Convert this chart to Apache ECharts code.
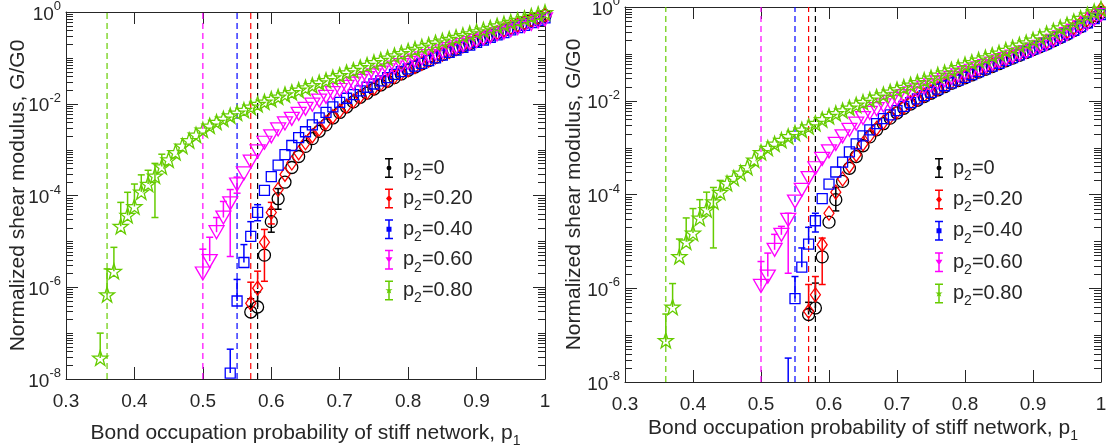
<!DOCTYPE html>
<html>
<head>
<meta charset="utf-8">
<script src="https://cdn.jsdelivr.net/npm/echarts@6/dist/echarts.min.js"></script>
<style>html,body{margin:0;padding:0;background:#fff}#c{width:1106px;height:447px}</style>
</head>
<body>
<div id="c"></div>
<script>
// ---------------- DATA ----------------
// bond occupation probability p1 (shared grid of x values)
const p1 = [0.35,0.36,0.37,0.38,0.39,0.40,0.41,0.42,0.43,0.44,0.45,0.46,0.47,0.48,0.49,0.50,
  0.51,0.52,0.53,0.54,0.55,0.56,0.57,0.58,0.59,0.60,0.61,0.62,0.63,0.64,0.65,0.66,0.67,0.68,0.69,0.70,
  0.71,0.72,0.73,0.74,0.75,0.76,0.77,0.78,0.79,0.80,0.81,0.82,0.83,0.84,0.85,0.86,0.87,0.88,0.89,0.90,
  0.91,0.92,0.93,0.94,0.95,0.96,0.97,0.98,0.99,1.00];

const seriesNames = ['p2=0','p2=0.20','p2=0.40','p2=0.60','p2=0.80'];
// percolation thresholds (dashed lines)
const thresholds = [0.58, 0.57, 0.55, 0.50, 0.36];

// log10(G/G0), each series ends at p1 = 1.00 (aligned to the end of p1)
// ---- left panel ----
const leftP0 = [-6.54,-6.43,-5.30,-4.57,-4.07,-3.71,-3.39,-3.15,-2.93,-2.76,-2.60,-2.46,-2.31,-2.19,
  -2.07,-1.96,-1.86,-1.77,-1.68,-1.59,-1.51,-1.43,-1.35,-1.27,
  -1.20,-1.13,-1.06,-0.99,-0.93,-0.87,-0.81,-0.75,-0.69,-0.63,
  -0.57,-0.51,-0.46,-0.40,-0.35,-0.29,-0.24,-0.18,-0.13,-0.08];
const leftP020 = [-6.35,-6.02,-5.02,-4.37,-3.87,-3.54,-3.29,-3.07,-2.85,-2.70,-2.55,-2.41,-2.28,-2.16,
  -2.05,-1.94,-1.84,-1.75,-1.66,-1.57,-1.49,-1.41,-1.33,-1.26,
  -1.19,-1.12,-1.05,-0.98,-0.92,-0.86,-0.80,-0.74,-0.68,-0.62,
  -0.56,-0.50,-0.45,-0.39,-0.34,-0.28,-0.23,-0.17,-0.12,-0.07];
const leftP040 = [-7.87,-6.30,-5.46,-4.89,-4.37,-3.89,-3.59,
  -3.34,-3.11,-2.91,-2.74,-2.61,-2.46,-2.31,-2.19,-2.07,-1.97,
  -1.88,-1.80,-1.72,-1.64,-1.57,-1.50,-1.43,-1.36,-1.30,-1.24,
  -1.18,-1.12,-1.06,-1.00,-0.94,-0.88,-0.83,-0.77,-0.72,-0.66,
  -0.61,-0.55,-0.50,-0.45,-0.39,-0.34,-0.29,-0.23,-0.18,-0.13];
const leftP060 = [-5.70,-5.43,-4.80,-4.48,-4.17,-3.76,-3.52,-3.26,-3.04,-2.85,-2.71,
  -2.56,-2.43,-2.33,-2.22,-2.11,-2.02,-1.93,-1.85,-1.77,-1.70,
  -1.63,-1.56,-1.50,-1.44,-1.38,-1.32,-1.27,-1.21,-1.16,-1.11,
  -1.06,-1.01,-0.96,-0.91,-0.86,-0.81,-0.77,-0.72,-0.68,-0.63,
  -0.58,-0.54,-0.49,-0.45,-0.40,-0.35,-0.31,-0.26,-0.21,-0.16];
const leftP080 = [-7.54,-6.16,-5.65,-4.67,-4.43,-4.24,
  -3.92,-3.75,-3.57,-3.37,-3.22,-3.06,-2.92,-2.80,-2.68,-2.57,
  -2.48,-2.40,-2.33,-2.26,-2.20,-2.14,-2.07,-2.01,-1.96,-1.90,
  -1.85,-1.80,-1.75,-1.70,-1.65,-1.60,-1.54,-1.49,-1.43,-1.38,
  -1.32,-1.27,-1.21,-1.16,-1.10,-1.05,-1.00,-0.95,-0.90,-0.85,
  -0.81,-0.76,-0.72,-0.67,-0.63,-0.59,-0.55,-0.51,-0.47,-0.43,
  -0.39,-0.35,-0.30,-0.26,-0.22,-0.18,-0.14,-0.09,-0.05,-0.01];
// ---- right panel ----
const rightP0 = [-6.56,-6.42,-5.33,-4.59,-4.11,-3.72,-3.44,-3.19,-2.96,-2.77,-2.62,-2.49,-2.37,-2.26,
  -2.16,-2.07,-1.99,-1.91,-1.84,-1.77,-1.70,-1.63,-1.57,-1.51,
  -1.45,-1.39,-1.33,-1.27,-1.21,-1.15,-1.09,-1.03,-0.97,-0.91,
  -0.85,-0.79,-0.72,-0.65,-0.58,-0.50,-0.42,-0.33,-0.23,-0.12];
const rightP020 = [-6.49,-6.14,-5.07,-4.40,-3.95,-3.67,-3.39,-3.15,-2.92,-2.74,-2.59,-2.46,-2.34,-2.23,
  -2.13,-2.04,-1.96,-1.88,-1.81,-1.74,-1.67,-1.60,-1.54,-1.48,
  -1.42,-1.36,-1.30,-1.24,-1.18,-1.12,-1.06,-1.00,-0.94,-0.88,
  -0.81,-0.74,-0.67,-0.60,-0.52,-0.44,-0.35,-0.26,-0.16,-0.05];
const rightP040 = [-8.30,-6.22,-5.55,-5.06,-4.56,-4.09,-3.78,
  -3.52,-3.31,-3.09,-2.92,-2.75,-2.62,-2.49,-2.38,-2.30,-2.21,
  -2.12,-2.04,-1.96,-1.89,-1.82,-1.75,-1.68,-1.62,-1.56,-1.50,
  -1.44,-1.38,-1.32,-1.26,-1.20,-1.14,-1.08,-1.02,-0.96,-0.90,
  -0.84,-0.78,-0.71,-0.64,-0.57,-0.50,-0.42,-0.34,-0.25,-0.16];
const rightP060 = [-5.95,-5.75,-5.18,-4.86,-4.54,-4.15,-3.90,-3.65,-3.44,-3.24,-3.08,
  -2.92,-2.76,-2.62,-2.49,-2.37,-2.26,-2.18,-2.10,-2.03,-1.96,
  -1.90,-1.84,-1.78,-1.72,-1.67,-1.61,-1.56,-1.51,-1.46,-1.41,
  -1.36,-1.31,-1.26,-1.21,-1.16,-1.11,-1.06,-1.01,-0.96,-0.91,
  -0.85,-0.79,-0.72,-0.65,-0.58,-0.51,-0.43,-0.35,-0.26,-0.17];
const rightP080 = [-7.11,-6.40,-5.32,-5.01,-4.82,
  -4.50,-4.32,-4.15,-3.95,-3.76,-3.65,-3.54,-3.42,-3.26,-3.10,
  -3.01,-2.92,-2.84,-2.76,-2.69,-2.62,-2.55,-2.48,-2.40,-2.33,
  -2.27,-2.21,-2.15,-2.09,-2.03,-1.98,-1.92,-1.87,-1.81,-1.76,
  -1.71,-1.66,-1.61,-1.56,-1.51,-1.45,-1.40,-1.34,-1.29,-1.23,
  -1.18,-1.13,-1.08,-1.03,-0.98,-0.92,-0.87,-0.81,-0.76,-0.70,
  -0.64,-0.57,-0.51,-0.44,-0.38,-0.31,-0.24,-0.17,-0.10,-0.04];

// visible error bars: [p1, lower log10 (null = not visible), upper log10]
const leftErrP0   = [[0.57,null,-6.25],[0.58,null,-6.10],[0.60,-4.80,-4.30],[0.61,-4.30,-3.85]];
const leftErrP020 = [[0.57,null,-5.89],[0.58,null,-5.65],[0.59,-5.87,-4.74],[0.60,-4.62,-4.15]];
const leftErrP040 = [[0.54,null,-7.35],[0.55,null,-5.83],[0.56,null,-5.07],[0.57,null,-4.57],[0.58,-4.55,-4.20]];
const leftErrP060 = [[0.50,null,-5.17],[0.51,null,-4.91],[0.52,null,-4.48],[0.53,null,-4.13],[0.54,-5.33,-3.87],[0.55,-3.95,-3.60]];
const leftErrP080 = [[0.35,null,-7.00],[0.36,null,-5.60],[0.37,null,-5.13],[0.38,null,-4.15],[0.39,null,-3.93],
  [0.40,null,-3.75],[0.41,null,-3.55],[0.42,null,-3.45],[0.43,-4.48,-3.30],[0.44,null,-3.10]];
const rightErrP0   = [[0.57,null,-6.30],[0.58,null,-5.89],[0.61,-4.35,-3.85]];
const rightErrP020 = [[0.57,null,-5.92],[0.58,null,-5.75],[0.59,-5.92,-4.93]];
const rightErrP040 = [[0.54,null,-7.49],[0.55,null,-5.75],[0.56,null,-5.14],[0.57,null,-4.70],[0.58,-4.80,-4.40]];
const rightErrP060 = [[0.50,null,-5.43],[0.51,null,-5.25],[0.52,null,-4.85],[0.53,null,-4.68],[0.54,-5.68,-4.40]];
const rightErrP080 = [[0.36,null,-6.55],[0.37,null,-5.90],[0.38,null,-4.95],[0.39,null,-4.50],[0.40,null,-4.30],
  [0.41,null,-4.11],[0.42,null,-3.95],[0.43,-5.14,-3.85],[0.44,null,-3.70]];

// axis ticks
const xMin = 0.3, xMax = 1.0, xStep = 0.1;
const yMin = 1e-8, yMax = 1;
const yMajorTicks = [1e-8, 1e-6, 1e-4, 1e-2, 1];
const yMinorTicks = [];
for (let k = -8; k < 0; k++) {
  for (let m = 1; m <= 9; m++) {
    if (m === 1 && k % 2 === 0) continue;
    yMinorTicks.push(m * Math.pow(10, k));
  }
}

// ---------------- STYLE ----------------
const AX = '#262626';
const FONT = '"Liberation Sans", Arial, Helvetica, sans-serif';
const colors = ['#000000', '#ff0000', '#0000ff', '#ff00ff', '#66cc00'];
const starPath = 'path://M50,0 L61.8,35.3 L97.6,35.5 L68.8,57.3 L79.4,92.7 L50,71.1 L20.6,92.7 L31.2,57.3 L2.4,35.5 L38.2,35.3 Z';
const symbols = ['circle', 'diamond', 'rect', 'triangle', starPath];
const symbolSizes = [12, [10, 14], 10, [15, 13], 15];
const symbolRotates = [0, 0, 0, 180, 0];
const barIcon = 'M0,0 L8,0 L8,1.5 L4.75,1.5 L4.75,18.5 L8,18.5 L8,20 L0,20 L0,18.5 L3.25,18.5 L3.25,1.5 L0,1.5 Z ';
const legendIcons = [
  'path://' + barIcon + 'M4,7.5 L5.77,8.23 L6.5,10 L5.77,11.77 L4,12.5 L2.23,11.77 L1.5,10 L2.23,8.23 Z',
  'path://' + barIcon + 'M4,6.5 L7,10 L4,13.5 L1,10 Z',
  'path://' + barIcon + 'M1.5,7.5 L6.5,7.5 L6.5,12.5 L1.5,12.5 Z',
  'path://' + barIcon + 'M0.5,7.5 L7.5,7.5 L4,13 Z',
  'path://' + barIcon + 'M4,6.2 L4.88,8.79 L7.61,8.83 L5.43,10.46 L6.23,13.07 L4,11.5 L1.77,13.07 L2.57,10.46 L0.39,8.83 L3.12,8.79 Z'
];

const panels = [
  { values: [leftP0, leftP020, leftP040, leftP060, leftP080],
    errs: [leftErrP0, leftErrP020, leftErrP040, leftErrP060, leftErrP080],
    grid: { left: 66, top: 12, width: 479, height: 367 },
    legend: { left: 385, top: 158, itemGap: 5.6 },
    yNameGap: 37, xNameGap: 39 },
  { values: [rightP0, rightP020, rightP040, rightP060, rightP080],
    errs: [rightErrP0, rightErrP020, rightErrP040, rightErrP060, rightErrP080],
    grid: { left: 625, top: 7, width: 476, height: 375 },
    legend: { left: 935, top: 158, itemGap: 6.4 },
    yNameGap: 40, xNameGap: 31 }
];

// ---------------- BUILD ----------------
const tenPow = v => Math.pow(10, v);
const option = { animation: false, backgroundColor: '#fff', grid: [], xAxis: [], yAxis: [], legend: [], series: [] };

const subRich = {
  a: { fontSize: 21, fontFamily: FONT, color: AX, lineHeight: 30, verticalAlign: 'middle' },
  s: { fontSize: 14, fontFamily: FONT, color: AX, lineHeight: 30, verticalAlign: 'bottom' }
};

panels.forEach((pan, gi) => {
  option.grid.push(Object.assign({ outerBoundsMode: 'none', containLabel: false }, pan.grid));
  const xi = gi * 2, yi = gi * 2;
  const xBase = {
    type: 'value', gridIndex: gi, min: xMin, max: xMax, interval: xStep,
    axisLine: { show: true, onZero: false, lineStyle: { color: AX, width: 1 } },
    axisTick: { show: true, inside: true, length: 12, lineStyle: { color: AX, width: 1 } },
    splitLine: { show: false }
  };
  option.xAxis.push(Object.assign({}, xBase, {
    position: 'bottom',
    axisLabel: { margin: 13, color: AX, fontSize: 19, fontFamily: FONT,
      formatter: v => String(Math.round(v * 10) / 10) },
    name: '{a|Bond occupation probability of stiff network, p}{s|1}',
    nameLocation: 'middle', nameGap: pan.xNameGap, nameMoveOverlap: false,
    nameTextStyle: { rich: subRich }
  }));
  option.xAxis.push(Object.assign({}, xBase, { position: 'top', axisLabel: { show: false } }));
  const yBase = {
    type: 'log', logBase: 10, gridIndex: gi, min: yMin, max: yMax,
    axisLine: { show: true, onZero: false, lineStyle: { color: AX, width: 1 } },
    axisTick: { show: false }, minorTick: { show: false },
    splitLine: { show: false }, minorSplitLine: { show: false }
  };
  option.yAxis.push(Object.assign({}, yBase, {
    position: 'left',
    axisLabel: {
      margin: 5, color: AX, fontFamily: FONT,
      formatter: v => { const e = Math.round(Math.log10(v)); return (e % 2 === 0) ? '{b|10}{e|' + e + '}' : ''; },
      rich: {
        b: { fontSize: 19, fontFamily: FONT, color: AX, lineHeight: 24, verticalAlign: 'bottom' },
        e: { fontSize: 13, fontFamily: FONT, color: AX, lineHeight: 24, verticalAlign: 'top' }
      }
    },
    name: 'Normalized shear modulus, G/G0', nameLocation: 'middle', nameGap: pan.yNameGap,
    nameRotate: 90, nameMoveOverlap: false,
    nameTextStyle: { fontSize: 21, fontFamily: FONT, color: AX }
  }));
  option.yAxis.push(Object.assign({}, yBase, { position: 'right', axisLabel: { show: false } }));

  // y ticks (major + MATLAB-style log minor ticks), drawn inward on both sides
  [[yMajorTicks, 12], [yMinorTicks, 7]].forEach(([vals, len]) => {
    option.series.push({
      type: 'custom', xAxisIndex: xi, yAxisIndex: yi, silent: true, z: 1,
      data: vals.map(v => [xMin, v]), encode: { x: 0, y: 1 },
      renderItem: (params, api) => {
        const cs = params.coordSys;
        const y = Math.round(api.coord([xMin, api.value(1)])[1]) + 0.5;
        const st = { stroke: AX, lineWidth: 1 };
        return { type: 'group', children: [
          { type: 'line', shape: { x1: cs.x, y1: y, x2: cs.x + len, y2: y }, style: st },
          { type: 'line', shape: { x1: cs.x + cs.width - len, y1: y, x2: cs.x + cs.width, y2: y }, style: st }
        ] };
      }
    });
  });

  seriesNames.forEach((name, si) => {
    const vals = pan.values[si];
    const xs = p1.slice(p1.length - vals.length);
    const c = colors[si];
    // threshold dashed line
    option.series.push({
      type: 'line', xAxisIndex: xi, yAxisIndex: yi, silent: true, z: 1,
      data: [[thresholds[si], yMin], [thresholds[si], yMax]],
      symbol: 'none', showSymbol: false, clip: true,
      lineStyle: { type: [6, 4], color: c, width: 1.2 },
      itemStyle: { color: c },
      emphasis: { disabled: true }
    });
    // error bars
    const errItems = pan.errs[si].map(([p, lo, hi]) => {
      const idx = xs.findIndex(x => Math.abs(x - p) < 1e-6);
      const base = lo == null ? vals[idx] : lo;
      return [p, tenPow(base), tenPow(hi), lo == null ? 0 : 1];
    });
    option.series.push({
      type: 'custom', name, xAxisIndex: xi, yAxisIndex: yi, silent: true, z: 2,
      data: errItems, encode: { x: 0, y: [1, 2] },
      renderItem: (params, api) => {
        const cs = params.coordSys;
        const x = api.value(0);
        const a = api.coord([x, api.value(1)]);
        const b = api.coord([x, api.value(2)]);
        const top = cs.y, bot = cs.y + cs.height;
        const ya = Math.max(top, Math.min(bot, a[1]));
        const yb = Math.max(top, Math.min(bot, b[1]));
        const st = { stroke: c, lineWidth: 1.5 };
        const hw = 3.5;
        const ch = [{ type: 'line', shape: { x1: a[0], y1: ya, x2: b[0], y2: yb }, style: st }];
        if (b[1] >= top && b[1] <= bot) ch.push({ type: 'line', shape: { x1: b[0] - hw, y1: b[1], x2: b[0] + hw, y2: b[1] }, style: st });
        if (api.value(3) && a[1] >= top && a[1] <= bot) ch.push({ type: 'line', shape: { x1: a[0] - hw, y1: a[1], x2: a[0] + hw, y2: a[1] }, style: st });
        return { type: 'group', children: ch };
      }
    });
    // markers
    option.series.push({
      type: 'scatter', name, xAxisIndex: xi, yAxisIndex: yi, z: 3 + si, clip: true,
      data: vals.map((v, i) => [xs[i], tenPow(v)]),
      symbol: symbols[si], symbolSize: symbolSizes[si], symbolRotate: symbolRotates[si],
      itemStyle: { color: 'rgba(0,0,0,0)', borderColor: c, borderWidth: 1.3, opacity: 1 },
      emphasis: { disabled: true }
    });
  });

  option.legend.push({
    orient: 'vertical', left: pan.legend.left, top: pan.legend.top, itemGap: pan.legend.itemGap,
    itemWidth: 18, itemHeight: 20, selectedMode: false, padding: 0,
    data: seriesNames.map((n, si) => ({ name: n, icon: legendIcons[si],
      itemStyle: { color: colors[si], borderColor: colors[si], borderWidth: 0 } })),
    formatter: n => '{p|p}{s|2}{p|' + n.slice(2) + '}',
    textStyle: {
      color: AX, fontFamily: FONT, fontSize: 20,
      rich: {
        p: { fontSize: 20, fontFamily: FONT, color: AX, lineHeight: 30, verticalAlign: 'middle' },
        s: { fontSize: 14, fontFamily: FONT, color: AX, lineHeight: 30, verticalAlign: 'bottom' }
      }
    }
  });
});

const chart = echarts.init(document.getElementById('c'), null, { renderer: 'canvas' });
chart.setOption(option);
</script>
</body>
</html>
